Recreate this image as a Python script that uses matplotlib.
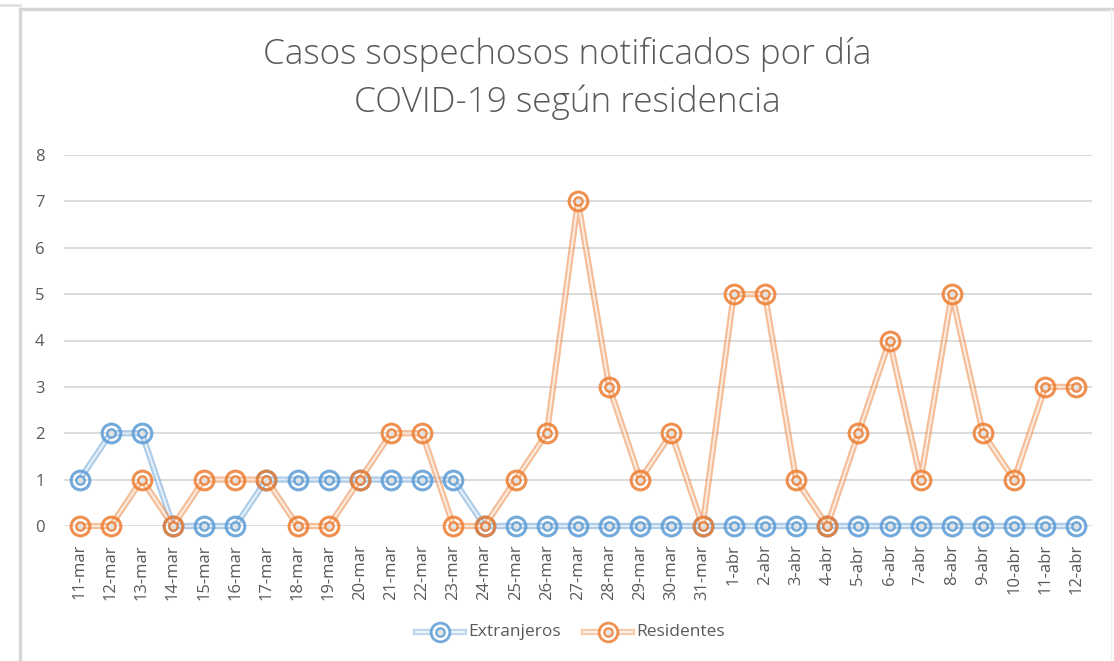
import numpy as np
import matplotlib.pyplot as plt
from matplotlib.lines import Line2D

# Datos
fechas = ["11-mar", "12-mar", "13-mar", "14-mar", "15-mar", "16-mar", "17-mar",
          "18-mar", "19-mar", "20-mar", "21-mar", "22-mar", "23-mar", "24-mar",
          "25-mar", "26-mar", "27-mar", "28-mar", "29-mar", "30-mar", "31-mar",
          "1-abr", "2-abr", "3-abr", "4-abr", "5-abr", "6-abr", "7-abr",
          "8-abr", "9-abr", "10-abr", "11-abr", "12-abr"]
extranjeros = [1, 2, 2, 0, 0, 0, 1, 1, 1, 1, 1, 1, 1, 0,
               0, 0, 0, 0, 0, 0, 0, 0, 0, 0, 0, 0, 0, 0, 0, 0, 0, 0, 0]
residentes = [0, 0, 1, 0, 1, 1, 1, 0, 0, 1, 2, 2, 0, 0,
              1, 2, 7, 3, 1, 2, 0, 5, 5, 1, 0, 2, 4, 1, 5, 2, 1, 3, 3]
yticks = list(range(0, 9))

AZUL = "#5B9BD5"
NARANJA = "#ED7D31"
GRIS_TXT = "#595959"
GRIS_GRID = "#D9D9D9"
FUENTE = ["Open Sans", "DejaVu Sans"]

W, H = 1114, 661
fig = plt.figure(figsize=(W / 100, H / 100), dpi=100)
fig.patch.set_facecolor("white")


def linea_fig(xs, ys, color, lw):
    fig.add_artist(Line2D([v / W for v in xs], [1 - v / H for v in ys],
                          transform=fig.transFigure, color=color, lw=lw))


# marco del grafico (estilo Excel)
linea_fig([20, 20], [9, 661], "#D6D6D6", 2.5)
linea_fig([20, 1114], [9, 9], "#D6D6D6", 2.5)
linea_fig([0, 20], [5, 5], "#E2E2E2", 2)
linea_fig([1111, 1111], [9, 661], "#EFEFEF", 1)

ax = fig.add_axes([64 / W, 1 - 526 / H, (1092 - 64) / W, (526 - 155) / H])
x = np.arange(len(fechas))


def serie(vals, color, z):
    # linea doble: banda clara + centro blanco
    ax.plot(x, vals, color=color, lw=4.5, alpha=0.5, zorder=z, clip_on=False)
    ax.plot(x, vals, color="white", lw=1.5, alpha=0.7, zorder=z + 0.1, clip_on=False)
    # marcador de doble circulo
    ax.plot(x, vals, ls="none", marker="o", ms=13.5, mfc="none", mec=color, mew=2.2,
            alpha=0.85, zorder=z + 0.2, clip_on=False)
    ax.plot(x, vals, ls="none", marker="o", ms=6, mfc="#E4E4E4", mec=color, mew=1.7,
            alpha=0.85, zorder=z + 0.3, clip_on=False)


serie(extranjeros, AZUL, 3)
serie(residentes, NARANJA, 4)

ax.set_xlim(-0.5, len(fechas) - 0.5)
ax.set_ylim(0, 8)
ax.set_yticks(yticks)
ax.set_xticks(x)
ax.set_xticklabels(fechas, rotation=90, fontsize=12, color=GRIS_TXT, family=FUENTE)
ax.set_yticklabels([str(v) for v in yticks], fontsize=12, color=GRIS_TXT, family=FUENTE)
ax.tick_params(axis="both", length=0)
ax.tick_params(axis="y", pad=14)
ax.tick_params(axis="x", pad=13)
ax.grid(axis="y", color=GRIS_GRID, lw=1.3)
ax.set_axisbelow(True)
for s in ax.spines.values():
    s.set_visible(False)

fig.text(567 / W, 1 - 55 / H, "Casos sospechosos notificados por día", ha="center",
         va="center", fontsize=25.3, color=GRIS_TXT, family=FUENTE, fontweight="light")
fig.text(567 / W, 1 - 102 / H, "COVID-19 según residencia", ha="center",
         va="center", fontsize=25.3, color=GRIS_TXT, family=FUENTE, fontweight="light")


# leyenda
def item_leyenda(xc, color, texto):
    y = 1 - 632 / H
    for lw, c, a in [(4.5, color, 0.4), (1.5, "white", 0.7)]:
        fig.add_artist(Line2D([(xc - 24) / W, (xc + 24) / W], [y, y], transform=fig.transFigure,
                              color=c, lw=lw, alpha=a))
    fig.add_artist(Line2D([xc / W], [y], transform=fig.transFigure, ls="none", marker="o",
                          ms=13.5, mfc="white", mec=color, mew=2.0, alpha=0.85))
    fig.add_artist(Line2D([xc / W], [y], transform=fig.transFigure, ls="none", marker="o",
                          ms=6, mfc="#E4E4E4", mec=color, mew=1.6, alpha=0.85))
    fig.text((xc + 28) / W, y, texto, ha="left", va="center", fontsize=12.5, color=GRIS_TXT,
             family=FUENTE)


item_leyenda(440, AZUL, "Extranjeros")
item_leyenda(608, NARANJA, "Residentes")

fig.savefig("out.png", dpi=100)
